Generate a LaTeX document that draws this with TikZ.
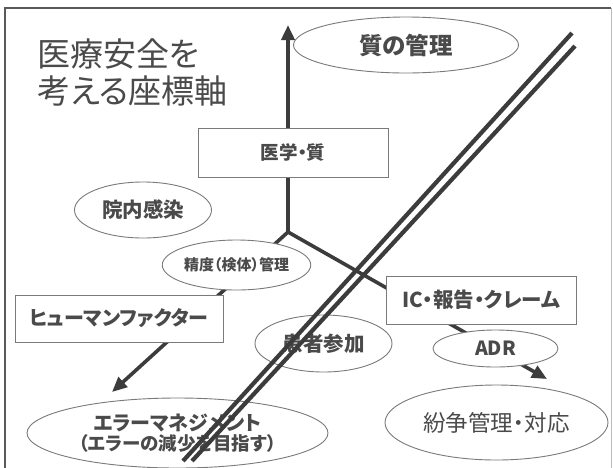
\documentclass[tikz,border=0pt]{standalone}
\usepackage{fontspec}
\usetikzlibrary{shapes.geometric,arrows.meta}
\newfontfamily\jp[RawFeature=+palt]{Noto Sans CJK JP}
\newcommand\jpb{\jp\bfseries}
\definecolor{ink}{HTML}{3C3C3C}
\definecolor{txt}{HTML}{4A4A4A}
\definecolor{edge}{HTML}{7A7A7A}
\tikzset{
  axisline/.style={draw=ink, line width=3.6pt, -{Triangle[length=15pt,width=13pt]}},
  railline/.style={draw=ink, line width=4.2pt},
  oval/.style={ellipse, draw=edge, line width=0.9pt, fill=white, inner sep=0pt, text=txt},
  boxnode/.style={rectangle, draw=edge, line width=0.9pt, fill=white, inner sep=0pt, text=txt},
}
\begin{document}
\begin{tikzpicture}[x=1pt,y=-1pt]
\useasboundingbox (0,0) rectangle (613,467);
\fill[white] (0,0) rectangle (613,467);
% frame
\draw[draw=ink!85, line width=1.6pt] (5,475) -- (5,8) -- (611,8);
\draw[draw=ink!35, line width=1pt] (611,8) -- (611,475);

% title
\node[anchor=west, text=txt, font=\jp\fontsize{33}{37}\selectfont, align=left, inner sep=0pt] (title) at (37,72) {医療安全を\\考える座標軸};

% axes
\coordinate (O) at (288,232);
\coordinate (upTip) at (288,25);
\coordinate (leftTip) at (112,392);
\coordinate (rightTip) at (547,379);
\draw[axisline] (O) -- (upTip);
\draw[axisline] (O) -- (leftTip);
\draw[axisline] (O) -- (rightTip);

% nodes
\node[oval, minimum width=225, minimum height=56, font=\jpb\fontsize{23.5}{26}\selectfont] (quality) at (406,45) {質の管理};
\node[boxnode, minimum width=190, minimum height=49, font=\jpb\fontsize{18.5}{20}\selectfont] (med) at (293,152.5) {医学・質};
\node[oval, minimum width=137, minimum height=56, font=\jpb\fontsize{20.5}{22}\selectfont] (infect) at (143,210) {院内感染};
\node[oval, minimum width=143, minimum height=50, font=\jpb\fontsize{15}{17}\selectfont] (prec) at (236.5,265) {精度（検体）管理};
\node[boxnode, minimum width=208, minimum height=47, font=\jpb\fontsize{20}{22}\selectfont] (human) at (119,318.5) {ヒューマンファクター};
\node[oval, minimum width=137, minimum height=57, font=\jpb\fontsize{20.5}{22}\selectfont] (patient) at (323.5,343.5) {患者参加};
\node[boxnode, minimum width=190, minimum height=48, font=\jpb\fontsize{20.5}{22}\selectfont] (ic) at (481,300) {IC・報告・クレーム};
\node[oval, minimum width=125, minimum height=37, font=\jpb\fontsize{19.5}{21}\selectfont] (adr) at (495.5,348.5) {ADR};
\node[oval, minimum width=223, minimum height=75, font=\jp\fontsize{22.5}{24}\selectfont] (dispute) at (496.5,422.5) {紛争管理・対応};
\node[oval, minimum width=301, minimum height=70, align=center] (error) at (177.5,433) {{\jpb\fontsize{20}{24}\selectfont エラーマネジメント}\\[1pt]{\jpb\fontsize{18.5}{21}\selectfont （エラーの減少を目指す）}};

% double line
\coordinate (rA1) at (572,33);
\coordinate (rA2) at (183,461);
\coordinate (rB1) at (575,46);
\coordinate (rB2) at (192,461);
\draw[railline] (rA1) -- (rA2);
\draw[railline] (rB1) -- (rB2);
\end{tikzpicture}
\end{document}
